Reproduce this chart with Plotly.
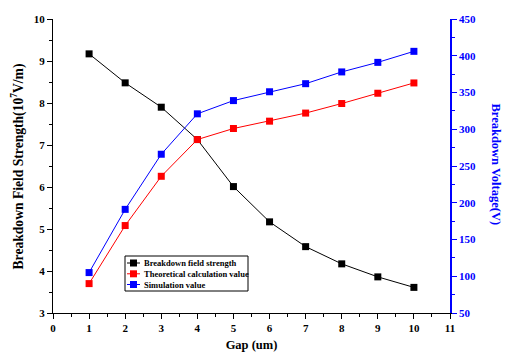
import plotly.graph_objects as go

gap = [1, 2, 3, 4, 5, 6, 7, 8, 9, 10]
field_strength = [9.17, 8.48, 7.90, 7.13, 6.01, 5.17, 4.58, 4.17, 3.86, 3.61]
theoretical = [90, 169, 236, 286, 301, 311, 322, 335, 349, 363]
simulation = [105, 191, 266, 321, 339, 351, 362, 378, 391, 406]

names = ["Breakdown field strength", "Theoretical calculation value", "Simulation value"]
colors = ["black", "red", "blue"]

FONT = "Liberation Serif"

fig = go.Figure()
fig.add_trace(go.Scatter(x=gap, y=field_strength, name=names[0],
                         mode="lines+markers", line=dict(color=colors[0], width=1),
                         marker=dict(symbol="square", size=7, color=colors[0]), yaxis="y"))
fig.add_trace(go.Scatter(x=gap, y=theoretical, name=names[1],
                         mode="lines+markers", line=dict(color=colors[1], width=1),
                         marker=dict(symbol="square", size=7, color=colors[1]), yaxis="y2"))
fig.add_trace(go.Scatter(x=gap, y=simulation, name=names[2],
                         mode="lines+markers", line=dict(color=colors[2], width=1),
                         marker=dict(symbol="square", size=7, color=colors[2]), yaxis="y2"))

# custom compact legend (paper coords)
pw, ph = 397.0, 294.0
def px(x):
    return (x - 53) / pw
def py(y):
    return (313 - y) / ph

shapes = [dict(type="rect", xref="paper", yref="paper", x0=px(125), x1=px(248), y0=py(291), y1=py(256),
               line=dict(color="black", width=1), fillcolor="white", layer="above")]
annotations = []
rows = [263, 273.8, 284.5]
for name, col, ry in zip(names, colors, rows):
    shapes.append(dict(type="line", xref="paper", yref="paper", x0=px(127), x1=px(140), y0=py(ry), y1=py(ry),
                       line=dict(color=col, width=1), layer="above"))
    shapes.append(dict(type="rect", xref="paper", yref="paper", x0=px(130), x1=px(137), y0=py(ry + 3.5), y1=py(ry - 3.5),
                       line=dict(color=col, width=0), fillcolor=col, layer="above"))
    annotations.append(dict(text="<b>" + name + "</b>", xref="paper", yref="paper", x=px(142), y=py(ry),
                            xanchor="left", yanchor="middle", showarrow=False,
                            font=dict(family=FONT, size=8.5, color="black")))

annotations += [
    dict(text="<b>Breakdown Field Strength(10<sup>7</sup>V/m)</b>", xref="paper", yref="paper",
         x=-0.087, y=0.5, xanchor="center", yanchor="middle", textangle=-90, showarrow=False,
         font=dict(family=FONT, size=13.6, color="black")),
    dict(text="<b>Breakdown Voltage(V)</b>", xref="paper", yref="paper",
         x=1.116, y=0.505, xanchor="center", yanchor="middle", textangle=90, showarrow=False,
         font=dict(family=FONT, size=12.5, color="blue")),
]

fig.update_layout(
    width=505, height=356,
    margin=dict(l=53, r=55, t=19, b=43),
    paper_bgcolor="white", plot_bgcolor="white",
    font=dict(family=FONT, color="black"),
    showlegend=False,
    xaxis=dict(range=[0, 11], tickmode="linear", tick0=0, dtick=1, automargin=False,
               showgrid=False, zeroline=False, showline=True, linecolor="black", linewidth=1,
               ticks="outside", ticklen=5, tickcolor="black",
               minor=dict(ticks="outside", ticklen=3, dtick=0.5, tickcolor="black"),
               tickfont=dict(family=FONT, size=11, color="black", weight="bold"),
               title=dict(text="<b>Gap (um)</b>", font=dict(family=FONT, size=12.5), standoff=7)),
    yaxis=dict(range=[3, 10], tickmode="linear", tick0=3, dtick=1, automargin=False,
               showgrid=False, zeroline=False, showline=True, linecolor="black", linewidth=1,
               ticks="outside", ticklen=5, tickcolor="black",
               minor=dict(ticks="outside", ticklen=3, dtick=0.5, tickcolor="black"),
               tickfont=dict(family=FONT, size=11, color="black", weight="bold")),
    yaxis2=dict(range=[50, 450], tickmode="linear", tick0=50, dtick=50, automargin=False,
                overlaying="y", side="right", anchor="x",
                showgrid=False, zeroline=False, showline=True, linecolor="blue", linewidth=1.5,
                ticks="outside", ticklen=5, tickcolor="blue",
                minor=dict(ticks="outside", ticklen=3, dtick=25, tickcolor="blue"),
                tickfont=dict(family=FONT, size=11, color="blue", weight="bold")),
    shapes=shapes,
    annotations=annotations,
)

fig.write_html("out.html")
